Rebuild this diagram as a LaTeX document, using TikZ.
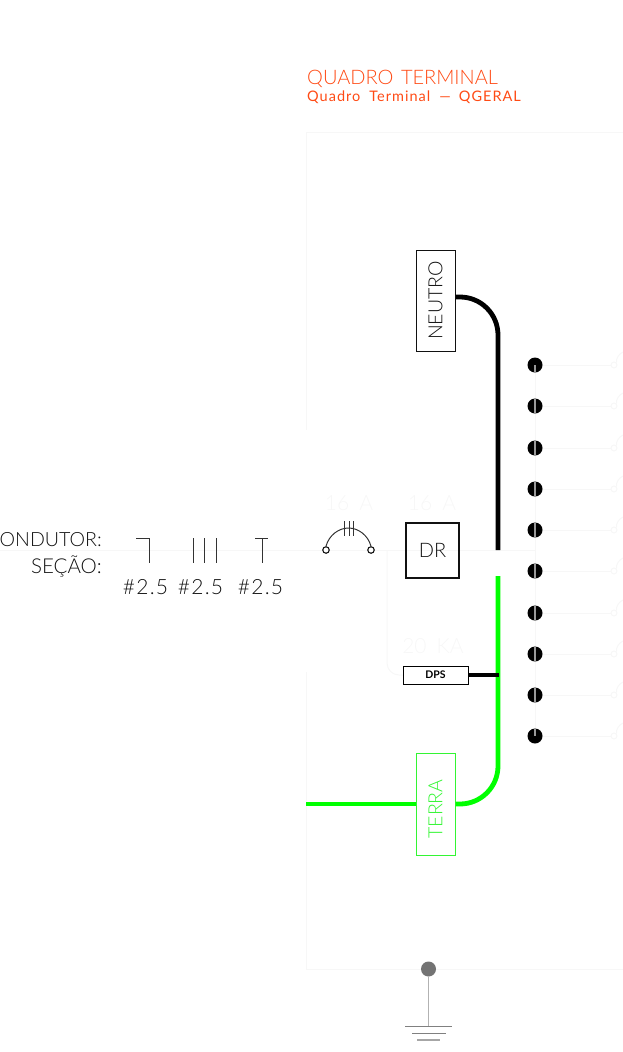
\documentclass[tikz,border=0pt]{standalone}
\usepackage{fontspec}
\setmainfont{Lato Light}
\newfontfamily\regfont{Lato}
\definecolor{faint}{HTML}{F7F7F7}
\definecolor{orangered}{HTML}{FF4A14}
\definecolor{wiregreen}{HTML}{00FF00}
\definecolor{terragreen}{HTML}{33F533}
\definecolor{ink}{HTML}{111111}
\definecolor{thinink}{HTML}{333333}
\tikzset{
  faintline/.style={draw=faint,line width=1pt},
  faintlabel/.style={text=faint,inner sep=0pt,font=\fontsize{21}{21}\selectfont},
  thinwire/.style={draw=thinink,line width=1pt},
  thickblack/.style={draw=black,line width=4.8pt},
  thickgreen/.style={draw=wiregreen,line width=4.8pt},
  busbox/.style={draw,line width=1pt,minimum width=39pt,inner sep=0pt,text=ink},
  label/.style={inner sep=0pt,text=ink,font=\fontsize{19.6}{19.6}\selectfont},
  seclabel/.style={inner sep=0pt,text=ink,font=\fontsize{21}{21}\selectfont\addfontfeature{LetterSpace=6}},
  dotnode/.style={circle,fill=black,minimum size=15pt,inner sep=0pt},
  open/.style={circle,draw=ink,fill=white,line width=1.1pt,minimum size=6.5pt,inner sep=0pt},
  faintopen/.style={circle,draw=faint,minimum size=6pt,inner sep=0pt,line width=1pt}
}
\begin{document}
\begin{tikzpicture}[x=1pt,y=-1pt]
\useasboundingbox (0,0) rectangle (623,1052);
% faint frame and feeders
\draw[faintline] (306,430) -- (306,132) -- (623,132);
\draw[faintline] (306,672) -- (306,969) -- (623,969);
\draw[faintline] (0,550) -- (535,550);
\draw[faintline,rounded corners=12pt] (387,550) -- (387,675) -- (403,675);
\draw[faintline] (535,365) -- (535,736);
\node[faintlabel] (lab16a) at (349,503) {16\hspace{10pt}A};
\node[faintlabel] (lab16b) at (432,503) {16\hspace{10pt}A};
\node[faintlabel] (lab20) at (433,646) {20\hspace{10pt}KA};
% terminals
\foreach \i/\yy in {1/365,2/406,3/448,4/489,5/530,6/571,7/613,8/654,9/695,10/736}{
  \node[faintopen] (c\i) at (614,\yy) {};
  \node[dotnode] (t\i) at (535,\yy) {};
  \draw[faintline] (t\i) -- (c\i);
  \draw[faintline] (c\i.north east) .. controls (616,\yy-7) and (619,\yy-11) .. (623,\yy-13);
}
\foreach \i in {2,...,9}{\draw[draw=black!40,line width=1.4pt] (t\i.north) -- (t\i.south);}
\draw[draw=black!40,line width=1.4pt] (t1.center) -- (t1.south);
\draw[draw=black!40,line width=1.4pt] (t10.north) -- (t10.center);
% title
\node[anchor=base west,inner sep=0pt,text=orangered,font=\fontsize{20}{20}\selectfont] (title) at (307,84) {QUADRO\hspace{7.5pt}TERMINAL};
\node[anchor=base west,inner sep=0pt,text=orangered,font=\regfont\fontsize{14.5}{14.5}\selectfont\addfontfeature{LetterSpace=7}] (subtitle) at (307,101) {Quadro\hspace{9pt}Terminal\hspace{9pt}—\hspace{8pt}QGERAL};
% conductor labels
\node[label,anchor=base east] (cond) at (102,546) {ONDUTOR:};
\node[label,anchor=base east,font=\fontsize{20.5}{20.5}\selectfont] (sec) at (102,573) {SEÇÃO:};
\coordinate (s1a) at (136,538); \coordinate (s1b) at (149,538); \coordinate (s1c) at (149,563);
\draw[thinwire] (s1a) -- (s1b) -- (s1c);
\foreach \n/\xx in {a/193,b/204,c/216}{
  \coordinate (s2\n t) at (\xx,538); \coordinate (s2\n b) at (\xx,563);
  \draw[thinwire] (s2\n t) -- (s2\n b);
}
\coordinate (s3a) at (255,538); \coordinate (s3b) at (268,538); \coordinate (s3c) at (262,538); \coordinate (s3d) at (262,563);
\draw[thinwire] (s3a) -- (s3b); \draw[thinwire] (s3c) -- (s3d);
\node[seclabel] (n1) at (145.5,587) {\#2.5};
\node[seclabel] (n2) at (200.5,587) {\#2.5};
\node[seclabel] (n3) at (260.5,587) {\#2.5};
% breaker
\node[open] (bl) at (326,550) {};
\node[open] (br) at (371,550) {};
\draw[thinwire] (bl.north) .. controls (329,535) and (339,528) .. (348.5,528) .. controls (358,528) and (368,535) .. (br.north);
\foreach \n/\xx in {a/344.5,b/349,c/353.5}{
  \coordinate (k\n t) at (\xx,521); \coordinate (k\n b) at (\xx,536);
  \draw[thinwire] (k\n t) -- (k\n b);
}
% DR
\node[draw=ink,line width=1.2pt,minimum width=53pt,minimum height=55pt,inner sep=0pt,text=ink,font=\fontsize{20}{20}\selectfont] (dr) at (432.5,550.5) {DR};
% neutral
\node[busbox,draw=ink,minimum height=101pt] (neutro) at (435.5,300.5) {\rotatebox{90}{\fontsize{19.5}{19.5}\selectfont NEUTRO}};
\coordinate (nw) at (neutro.east |- 0,297);
\coordinate (nend) at (498,550);
\draw[thickblack,rounded corners=38pt] (nw) -| (nend);
% earth
\node[busbox,draw=terragreen,minimum height=102pt] (terra) at (435.5,804) {};
\node[inner sep=0pt,text=terragreen,rotate=90,font=\fontsize{19.5}{19.5}\selectfont] (terratext) at (435.5,809) {TERRA};
\coordinate (gnd) at (306,804);
\coordinate (gend) at (498,576);
\draw[thickgreen] (gnd) -- (terra.west);
\draw[thickgreen,rounded corners=38pt] (terra.east) -| (gend);
% DPS
\node[draw=black,line width=1pt,minimum width=65pt,minimum height=18pt,inner sep=0pt,font=\regfont\fontsize{10.5}{10.5}\selectfont\bfseries] (dps) at (435.5,675) {DPS};
\coordinate (dpsend) at (499,675);
\draw[thickblack] (dps.east) -- (dpsend);
% ground
\node[circle,fill=black!55,minimum size=15pt,inner sep=0pt] (gdot) at (428.5,969) {};
\coordinate (g1) at (428.5,1026);
\draw[draw=black!30,line width=1.5pt] (gdot) -- (g1);
\coordinate (g1a) at (405,1026); \coordinate (g1b) at (452,1026);
\coordinate (g2a) at (412,1033); \coordinate (g2b) at (446,1033);
\coordinate (g3a) at (417,1040); \coordinate (g3b) at (440,1040);
\draw[draw=black!50,line width=1pt] (g1a) -- (g1b);
\draw[draw=black!50,line width=1pt] (g2a) -- (g2b);
\draw[draw=black!35,line width=1.2pt] (g3a) -- (g3b);
\end{tikzpicture}
\end{document}
